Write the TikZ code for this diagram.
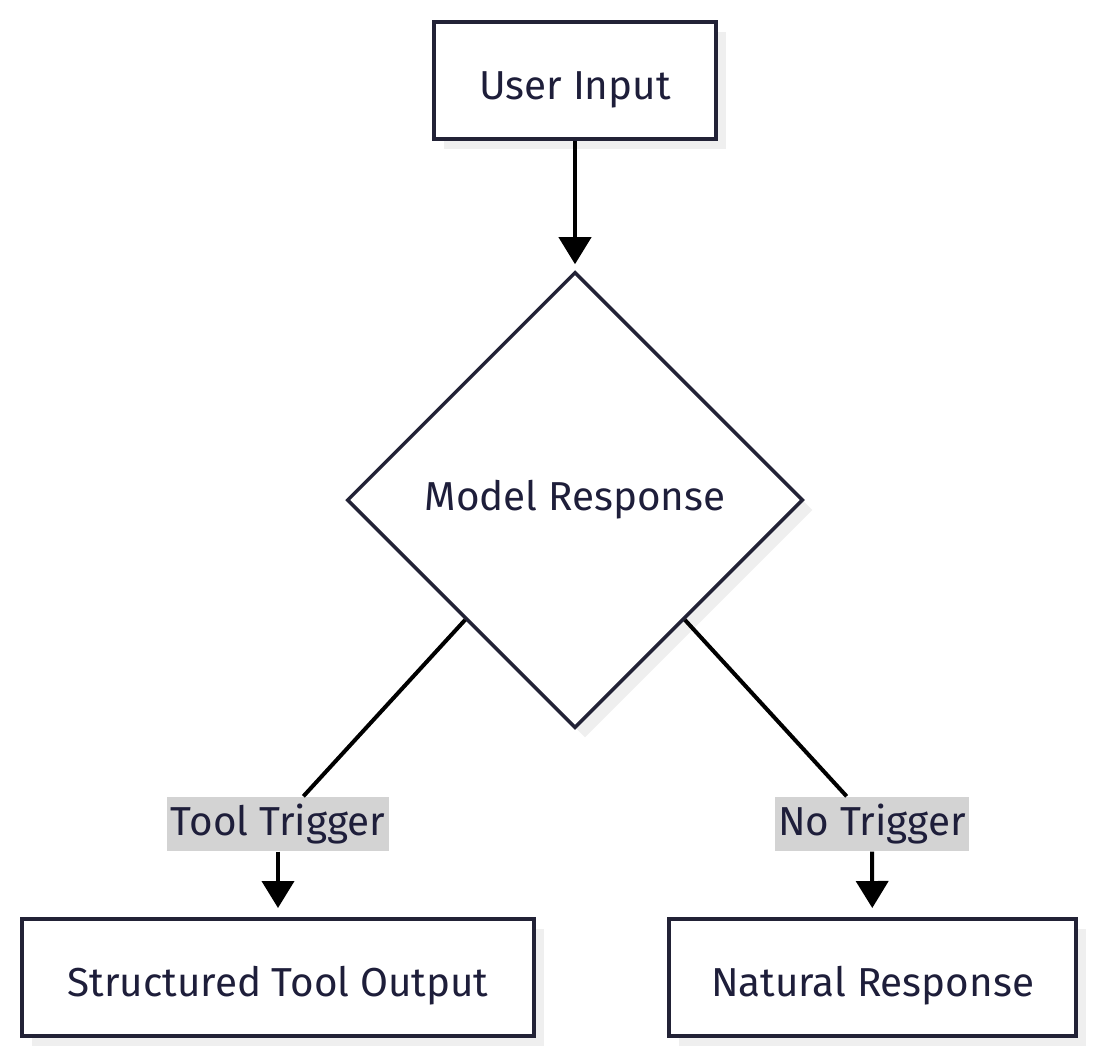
\documentclass[tikz,border=0pt]{standalone}
\usepackage{fontspec}
\setmainfont{Fira Sans}
\usetikzlibrary{arrows.meta,positioning,shapes.geometric,shadows}

\definecolor{ink}{HTML}{1E1E3A}
\definecolor{edge}{HTML}{222236}
\definecolor{tagfill}{HTML}{D3D3D3}
\definecolor{shade}{HTML}{EFEFEF}

\begin{document}
\begin{tikzpicture}[
  font=\fontsize{11.5}{14}\selectfont,
  >={Triangle[width=0.32cm,length=0.27cm]},
  shade/.style={drop shadow={shadow xshift=0.1cm,shadow yshift=-0.1cm,fill=shade,opacity=1}},
  block/.style={draw=edge,line width=0.04cm,fill=white,text=ink,minimum height=1.17cm,text height=2.2ex,text depth=0.2ex,align=center,shade},
  decision/.style={diamond,draw=edge,line width=0.035cm,fill=white,text=ink,minimum width=4.56cm,minimum height=4.56cm,inner sep=0pt,shade},
  tag/.style={fill=tagfill,text=ink,inner xsep=1pt,inner ysep=0pt,minimum height=0.54cm},
  flow/.style={->,line width=0.04cm,black}
]
\useasboundingbox (0,0) rectangle (11,-10.62);

\node[block,minimum width=2.82cm] (ui) at (5.75,-0.805) {User Input};
\node[decision] (mr) at (5.75,-5.00) {Model Response};
\node[block,minimum width=5.12cm] (sto) at (2.78,-9.775) {Structured Tool Output};
\node[block,minimum width=4.07cm] (nr) at (8.725,-9.775) {Natural Response};

\node[tag] (tt) at (2.78,-8.24) {Tool Trigger};
\node[tag] (nt) at (8.72,-8.24) {No Trigger};

\draw[flow,shorten >=0.06cm] (ui) -- (mr);
\draw[line width=0.04cm] (mr) -- (tt);
\draw[flow,shorten >=0.09cm] (tt) -- (sto);
\draw[line width=0.04cm] (mr) -- (nt);
\draw[flow,shorten >=0.09cm] (nt) -- (nr);
\end{tikzpicture}
\end{document}
